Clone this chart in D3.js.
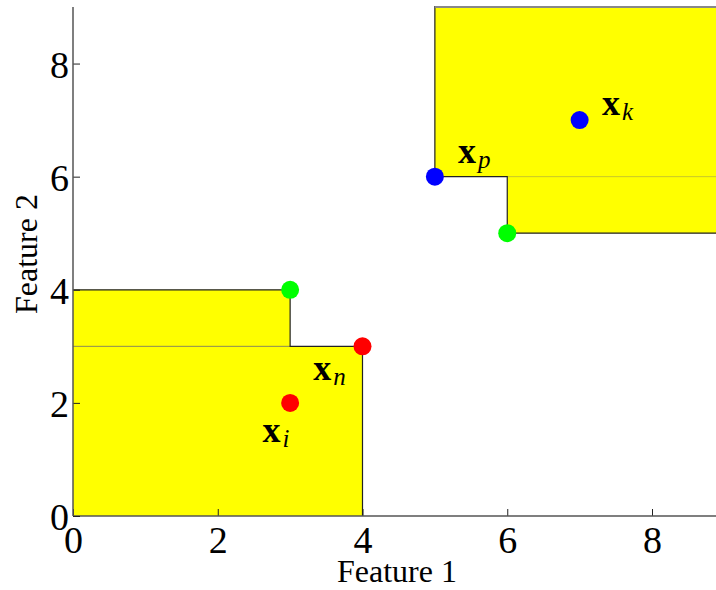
<!DOCTYPE html>
<html>
<head>
<meta charset="utf-8">
<script src="https://cdn.jsdelivr.net/npm/d3@7/dist/d3.min.js"></script>
<style>
  html, body { margin: 0; padding: 0; background: #fff; }
  svg { display: block; }
  text { font-family: "Liberation Serif", "DejaVu Serif", serif; }
</style>
</head>
<body>
<svg id="chart" width="716" height="590"></svg>
<script>
// Axis ticks
const xTicks = [0, 2, 4, 6, 8];
const yTicks = [0, 2, 4, 6, 8];

// Yellow decision regions (feature-space rectangles)
const lowerRegions = [
  { x0: 0, x1: 3, y0: 3, y1: 4 },
  { x0: 0, x1: 4, y0: 0, y1: 3 }
];
const upperRegions = [
  { x0: 6, x1: 10, y0: 5, y1: 6 },
  { x0: 5, x1: 10, y0: 6, y1: 10 }
];

// Sample points
const pointX = [3, 4, 3, 6, 5, 7];
const pointY = [2, 3, 4, 5, 6, 7];
const pointColor = ["#ff0000", "#ff0000", "#00ff00", "#00ff00", "#0000ff", "#0000ff"];

// Point labels (bold x with italic subscript)
const labelSub = ["i", "n", "p", "k"];
const labelX = [2.62, 3.32, 5.32, 7.31];
const labelY = [1.31, 2.40, 6.25, 7.09];

const svg = d3.select("#chart");
const padL = 73, padB = 516, padT = 7, padR = 716;

const x = d3.scaleLinear().domain([0, 9]).range([padL, padL + 9 * 72.375]);
const y = d3.scaleLinear().domain([0, 9]).range([padB, padT]);

svg.append("clipPath").attr("id", "plotclip")
  .append("rect").attr("x", padL).attr("y", padT - 1)
  .attr("width", padR - padL).attr("height", padB - padT + 1);

const plot = svg.append("g").attr("clip-path", "url(#plotclip)");

function drawRegions(regs) {
  plot.selectAll(null).data(regs).enter().append("rect")
    .attr("x", d => x(d.x0))
    .attr("y", d => y(d.y1))
    .attr("width", d => x(d.x1) - x(d.x0))
    .attr("height", d => y(d.y0) - y(d.y1))
    .attr("fill", "#ffff00")
    .attr("stroke", "none");
}

drawRegions(lowerRegions);
drawRegions(upperRegions);

// Internal seam lines between adjoining rectangles
plot.append("line")
  .attr("x1", x(0)).attr("x2", x(3))
  .attr("y1", y(3)).attr("y2", y(3))
  .attr("stroke", "#8a8a50").attr("stroke-width", 1);
plot.append("line")
  .attr("x1", x(6)).attr("x2", x(10))
  .attr("y1", y(6)).attr("y2", y(6))
  .attr("stroke", "#c8c820").attr("stroke-width", 1);

// Region outlines
const lowerOutline = [[0, 4], [3, 4], [3, 3], [4, 3], [4, 0]];
const upperOutline = [[5, 10], [5, 6], [6, 6], [6, 5], [10, 5]];
const line = d3.line().x(d => x(d[0])).y(d => y(d[1]));
plot.append("path").attr("d", line(lowerOutline))
  .attr("fill", "none").attr("stroke", "#222").attr("stroke-width", 1.2);
plot.append("path").attr("d", line(upperOutline))
  .attr("fill", "none").attr("stroke", "#222").attr("stroke-width", 1.2);
// top border of the upper region at the plot edge
plot.append("line")
  .attr("x1", x(5)).attr("x2", padR)
  .attr("y1", y(9)).attr("y2", y(9))
  .attr("stroke", "#888").attr("stroke-width", 2);

// Axes
const xAxis = d3.axisBottom(x).tickValues(xTicks).tickSize(-7).tickPadding(4).tickFormat(d3.format("d"));
const yAxis = d3.axisLeft(y).tickValues(yTicks).tickSize(-7).tickPadding(4).tickFormat(d3.format("d"));

const gx = svg.append("g").attr("transform", `translate(0,${padB})`).call(xAxis);
gx.select(".domain").remove();
gx.append("line").attr("x1", padL).attr("x2", padR).attr("y1", 0).attr("y2", 0)
  .attr("stroke", "#555").attr("stroke-width", 1.5);
gx.selectAll(".tick line").attr("stroke", "#222");
gx.selectAll(".tick text").attr("font-size", 38).attr("fill", "#000")
  .attr("font-family", "Liberation Serif, serif").attr("y", 37).attr("dy", 0);

const gy = svg.append("g").attr("transform", `translate(${padL},0)`).call(yAxis);
gy.select(".domain").remove();
gy.append("line").attr("x1", 0).attr("x2", 0).attr("y1", padT).attr("y2", padB)
  .attr("stroke", "#555").attr("stroke-width", 1.5);
gy.selectAll(".tick line").attr("stroke", "#222");
gy.selectAll(".tick text").attr("font-size", 38).attr("fill", "#000")
  .attr("font-family", "Liberation Serif, serif").attr("dy", 13.5);

// Axis titles
svg.append("text").attr("x", 397).attr("y", 582).attr("text-anchor", "middle")
  .attr("font-size", 32).text("Feature 1");
svg.append("text").attr("transform", "translate(37,254) rotate(-90)")
  .attr("text-anchor", "middle").attr("font-size", 32).text("Feature 2");

// Points
svg.selectAll("circle.pt").data(pointX).enter().append("circle")
  .attr("class", "pt")
  .attr("cx", d => x(d))
  .attr("cy", (d, i) => y(pointY[i]))
  .attr("r", 9)
  .attr("fill", (d, i) => pointColor[i]);

// Labels
const lab = svg.selectAll("text.lab").data(labelSub).enter().append("text")
  .attr("class", "lab")
  .attr("x", (d, i) => x(labelX[i]))
  .attr("y", (d, i) => y(labelY[i]));
lab.append("tspan").attr("font-weight", "bold").attr("font-size", 36).text("x");
lab.append("tspan").attr("font-style", "italic").attr("font-size", 25).attr("dx", 2).attr("dy", 5).text(d => d);
</script>
</body>
</html>
